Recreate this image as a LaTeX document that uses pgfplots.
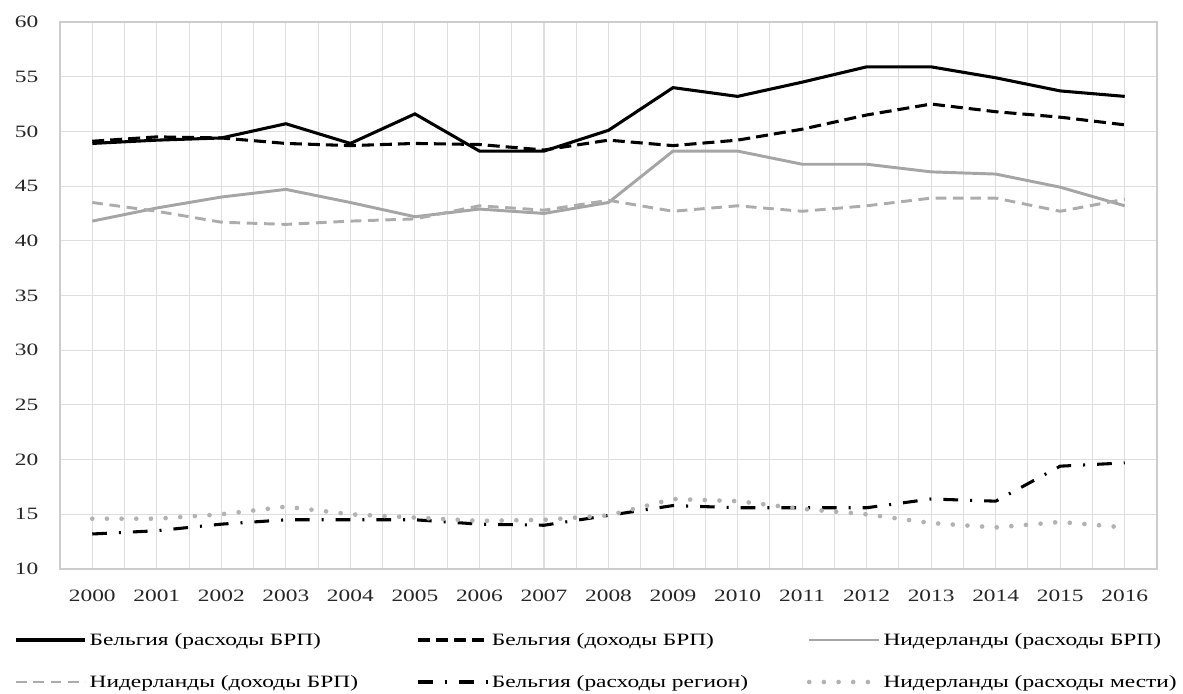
\documentclass[border=0pt]{standalone}
\usepackage{pgfplots}
\pgfplotsset{compat=1.18}
\usepackage{fontspec}
\setmainfont{Liberation Serif}[FakeStretch=1.35]
\definecolor{gridc}{RGB}{222,222,222}
\definecolor{axc}{RGB}{205,205,205}
\definecolor{g1}{RGB}{165,165,165}
\definecolor{g2}{RGB}{172,172,172}
\definecolor{g3}{RGB}{178,178,178}
\begin{document}
\begin{tikzpicture}
\begin{axis}[
  scale only axis,
  width=822.75pt, height=410.25pt,
  xmin=-0.5, xmax=16.5, ymin=10, ymax=60,
  xtick={0,...,16},
  xticklabels={2000,2001,2002,2003,2004,2005,2006,2007,2008,2009,2010,2011,2012,2013,2014,2015,2016},
  minor xtick={-0.5,0.5,...,16.5},
  ytick={10,15,...,60},
  grid=both,
  major grid style={gridc, line width=0.8pt},
  minor grid style={gridc, line width=0.8pt},
  axis line style={axc, line width=0.8pt},
  major tick length=0pt, minor tick length=0pt,
  tick label style={font=\fontsize{13}{15}\selectfont, text=black!85},
  /pgf/number format/assume math mode=true,
  xticklabel style={yshift=-12pt},
  yticklabel style={xshift=-12.75pt},
  legend style={at={(0.4895,-0.1682)}, anchor=center, draw=none, fill=none,
    inner sep=0pt,
    font=\fontsize{13}{15}\selectfont, legend columns=3,
    /tikz/every even column/.append style={column sep=42pt},
    row sep=17pt, legend cell align=left},
  legend image code/.code={\draw[#1] (0pt,0pt) -- (52pt,0pt);},
]
\addplot[black, line width=2.3pt] coordinates {(0,48.9)(1,49.2)(2,49.4)(3,50.7)(4,48.9)(5,51.6)(6,48.2)(7,48.2)(8,50.1)(9,54.0)(10,53.2)(11,54.5)(12,55.9)(13,55.9)(14,54.9)(15,53.7)(16,53.2)};
\addlegendentry{Бельгия (расходы БРП)}
\addplot[black, line width=2.3pt, dash pattern=on 9pt off 4.5pt] coordinates {(0,49.1)(1,49.5)(2,49.4)(3,48.9)(4,48.7)(5,48.9)(6,48.8)(7,48.3)(8,49.2)(9,48.7)(10,49.2)(11,50.2)(12,51.5)(13,52.5)(14,51.8)(15,51.3)(16,50.6)};
\addlegendentry{Бельгия (доходы БРП)}
\addplot[g1, line width=2.2pt] coordinates {(0,41.8)(1,43.0)(2,44.0)(3,44.7)(4,43.5)(5,42.2)(6,42.9)(7,42.5)(8,43.5)(9,48.2)(10,48.2)(11,47.0)(12,47.0)(13,46.3)(14,46.1)(15,44.9)(16,43.2)};
\addlegendentry{Нидерланды (расходы БРП)}
\addplot[g2, line width=2.2pt, dash pattern=on 8pt off 5pt] coordinates {(0,43.5)(1,42.7)(2,41.7)(3,41.5)(4,41.8)(5,42.0)(6,43.2)(7,42.8)(8,43.7)(9,42.7)(10,43.2)(11,42.7)(12,43.2)(13,43.9)(14,43.9)(15,42.7)(16,43.8)};
\addlegendentry{Нидерланды (доходы БРП)}
\addplot[black, line width=2.3pt, dash pattern=on 11pt off 9pt on 1.5pt off 9pt] coordinates {(0,13.2)(1,13.5)(2,14.1)(3,14.5)(4,14.5)(5,14.5)(6,14.1)(7,14.0)(8,14.9)(9,15.8)(10,15.6)(11,15.6)(12,15.6)(13,16.4)(14,16.2)(15,19.4)(16,19.7)};
\addlegendentry{Бельгия (расходы регион)}
\addplot[g3, line width=3.5pt, line cap=round, dash pattern=on 0pt off 11pt] coordinates {(0,14.6)(1,14.6)(2,15.0)(3,15.7)(4,15.0)(5,14.7)(6,14.4)(7,14.5)(8,14.9)(9,16.4)(10,16.2)(11,15.5)(12,15.0)(13,14.2)(14,13.8)(15,14.3)(16,13.8)};
\addlegendentry{Нидерланды (расходы мести)}
\end{axis}
\pgfresetboundingbox
\path[use as bounding box] ([shift={(-45pt,-93pt)}]current axis.south west) rectangle ([shift={(19.5pt,16.5pt)}]current axis.north east);
\end{tikzpicture}
\end{document}
